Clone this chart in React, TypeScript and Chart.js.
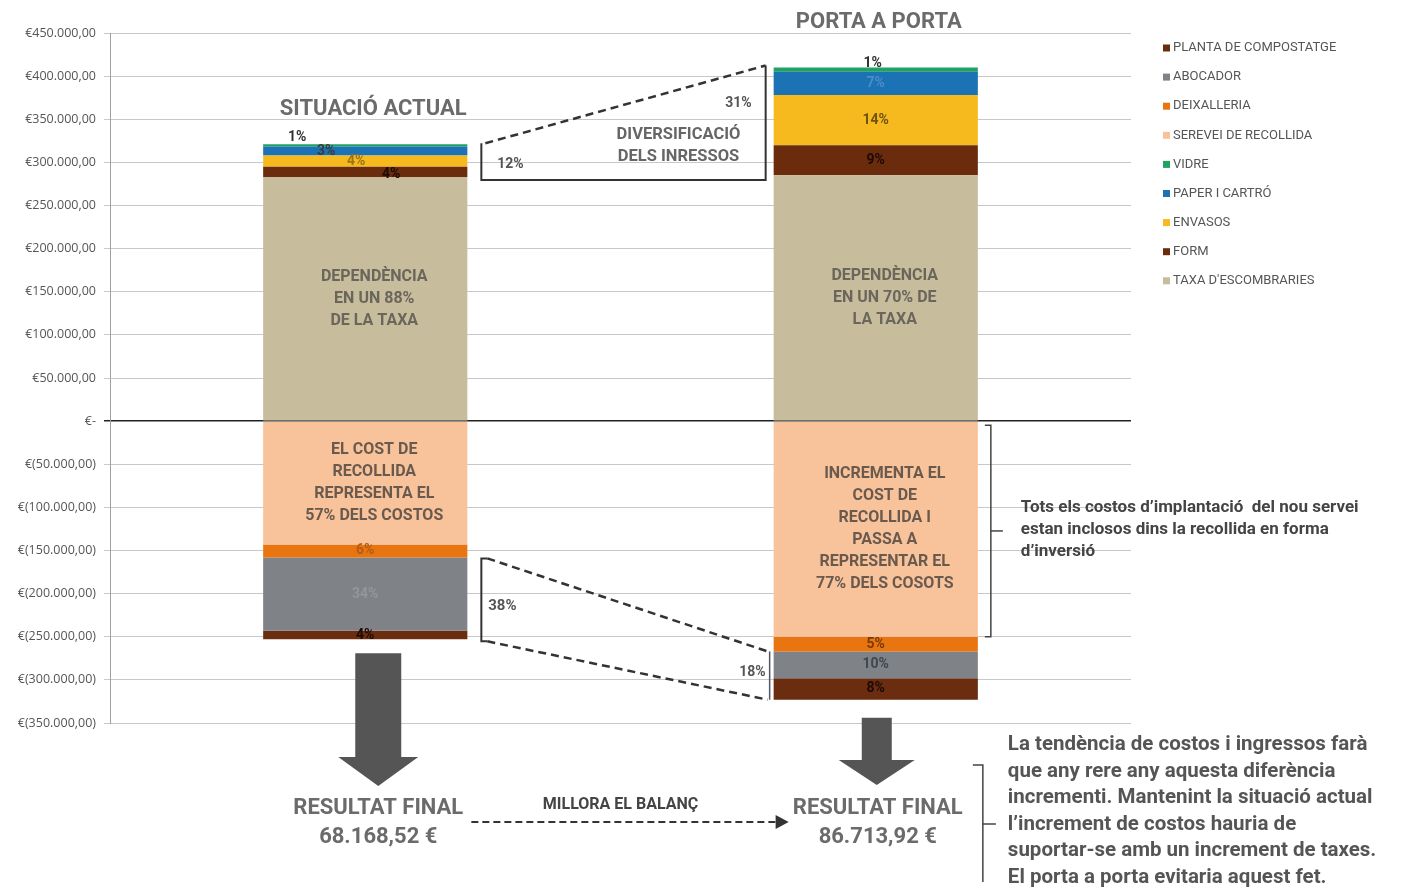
import React, { useEffect, useRef } from "react";
import { Chart, registerables } from "chart.js";
Chart.register(...registerables);

// ---------- DATA ----------
const categories = ["SITUACIÓ ACTUAL", "PORTA A PORTA"];
const taxa = [283000, 285000];
const form = [12000, 35000];
const envasos = [13000, 58000];
const paper = [10500, 27000];
const vidre = [2500, 5000];
const recollida = [-143000, -250000];
const deixalleria = [-15000, -17000];
const abocador = [-85000, -31000];
const planta = [-10000, -25000];

const pctForm = ["4%", "9%"];
const pctEnvasos = ["4%", "14%"];
const pctPaper = ["3%", "7%"];
const pctVidre = ["1%", "1%"];
const pctDeixalleria = ["6%", "5%"];
const pctAbocador = ["34%", "10%"];
const pctPlanta = ["4%", "8%"];

const yMin = -350000;
const yMax = 450000;
const yStep = 50000;

const resultValues = ["68.168,52 €", "86.713,92 €"];
const incomeShare = ["12%", "31%"];
const costShare = ["38%", "18%"];
const taxaText = [
  ["DEPENDÈNCIA", "EN UN 88%", "DE LA TAXA"],
  ["DEPENDÈNCIA", "EN UN 70% DE", "LA TAXA"],
];
const recollidaText = [
  ["EL COST DE", "RECOLLIDA", "REPRESENTA EL", "57% DELS COSTOS"],
  ["INCREMENTA EL", "COST DE", "RECOLLIDA I", "PASSA A", "REPRESENTAR EL", "77% DELS COSOTS"],
];
const noteText = [
  "Tots els costos d’implantació  del nou servei",
  "estan inclosos dins la recollida en forma",
  "d’inversió",
];
const sideText = [
  "La tendència de costos i ingressos farà",
  "que any rere any aquesta diferència",
  "incrementi. Mantenint la situació actual",
  "l’increment de costos hauria de",
  "suportar-se amb un increment de taxes.",
  "El porta a porta evitaria aquest fet.",
];

// ---------- STYLE ----------
const C = {
  taxa: "#c7bc9c",
  form: "#6b2c0e",
  envasos: "#f6ba1e",
  paper: "#1b72b4",
  vidre: "#1fa262",
  recollida: "#f8c29b",
  deixalleria: "#e8750f",
  abocador: "#7f8286",
  planta: "#6a2d10",
};
const FONT = "Roboto, 'Open Sans', sans-serif";
const GRAY = "#6b6b6b";

const fmt = (n: number) => {
  const s = Math.abs(n).toFixed(2).split(".");
  return s[0].replace(/\B(?=(\d{3})+(?!\d))/g, ".") + "," + s[1];
};
const sum = (arr: number[][], j: number) => arr.reduce((a, b) => a + b[j], 0);

function text(ctx: CanvasRenderingContext2D, s: string, x: number, y: number, font: string, color: string, align: CanvasTextAlign = "center") {
  ctx.save();
  ctx.font = font;
  ctx.fillStyle = color;
  ctx.textAlign = align;
  ctx.textBaseline = "middle";
  ctx.fillText(s, x, y);
  ctx.restore();
}

function line(ctx: CanvasRenderingContext2D, pts: number[][], color: string, w: number, dash: number[] = []) {
  ctx.save();
  ctx.strokeStyle = color;
  ctx.lineWidth = w;
  ctx.setLineDash(dash);
  ctx.beginPath();
  pts.forEach((p, i) => (i === 0 ? ctx.moveTo(p[0], p[1]) : ctx.lineTo(p[0], p[1])));
  ctx.stroke();
  ctx.restore();
}

function downArrow(ctx: CanvasRenderingContext2D, cx: number, top: number, headY: number, tip: number, shaftW: number, headW: number) {
  ctx.save();
  ctx.fillStyle = "#555555";
  ctx.beginPath();
  ctx.moveTo(cx - shaftW / 2, top);
  ctx.lineTo(cx + shaftW / 2, top);
  ctx.lineTo(cx + shaftW / 2, headY);
  ctx.lineTo(cx + headW / 2, headY);
  ctx.lineTo(cx, tip);
  ctx.lineTo(cx - headW / 2, headY);
  ctx.lineTo(cx - shaftW / 2, headY);
  ctx.closePath();
  ctx.fill();
  ctx.restore();
}

const annotPlugin = {
  id: "annot",
  afterDatasetsDraw(chart: any) {
    const ctx: CanvasRenderingContext2D = chart.ctx;
    const segLabels: { ds: number; labels: string[]; colors: string[]; dx: number[]; dy: number[] }[] = [
      { ds: 1, labels: pctForm, colors: ["#1e0a02", "#1e0a02"], dx: [26, 0], dy: [3, 0] },
      { ds: 2, labels: pctEnvasos, colors: ["#9a7418", "#6e5312"], dx: [-9, 0], dy: [0, 0] },
      { ds: 3, labels: pctPaper, colors: ["#3a3a3a", "#4d8cc4"], dx: [-39, 0], dy: [1, 0] },
      { ds: 4, labels: pctVidre, colors: ["#333333", "#333333"], dx: [-68, -3], dy: [-8, -6] },
      { ds: 6, labels: pctDeixalleria, colors: ["#b45c18", "#7a3a08"], dx: [0, 0], dy: [0, 0] },
      { ds: 7, labels: pctAbocador, colors: ["#93969b", "#3f4650"], dx: [0, 0], dy: [0, 0] },
      { ds: 8, labels: pctPlanta, colors: ["#1e0a02", "#1e0a02"], dx: [0, 0], dy: [0, 0] },
    ];
    segLabels.forEach((s) => {
      const meta = chart.getDatasetMeta(s.ds);
      meta.data.forEach((el: any, j: number) => {
        const cy = (el.y + el.base) / 2;
        text(ctx, s.labels[j], el.x + s.dx[j], cy + s.dy[j], `bold 14px ${FONT}`, s.colors[j]);
      });
    });
  },
  afterDraw(chart: any) {
    const ctx: CanvasRenderingContext2D = chart.ctx;
    const y = chart.scales.y;
    const yPx = (v: number) => y.getPixelForValue(v);
    const bars = chart.getDatasetMeta(0).data;
    const pos = [taxa, form, envasos, paper, vidre];
    const neg = [recollida, deixalleria, abocador, planta];
    const cx = bars.map((b: any) => b.x);
    const left = bars.map((b: any) => b.x - b.width / 2);
    const right = bars.map((b: any) => b.x + b.width / 2);
    const posTop = [0, 1].map((j) => yPx(sum(pos, j)));
    const negBot = [0, 1].map((j) => yPx(sum(neg, j)));

    // titles
    text(ctx, categories[0], cx[0] + 8, posTop[0] - 35, `bold 22px ${FONT}`, GRAY);
    text(ctx, categories[1], cx[1] + 3, posTop[1] - 45, `bold 22px ${FONT}`, GRAY);

    // texts in taxa / recollida segments
    [0, 1].forEach((j) => {
      const c1 = yPx(taxa[j] / 2);
      const l1 = taxaText[j];
      l1.forEach((s, i) => text(ctx, s, cx[j] + 9, c1 + (i - (l1.length - 1) / 2) * 22, `bold 16px ${FONT}`, "#6a665c"));
      const c2 = yPx(recollida[j] / 2);
      const l2 = recollidaText[j];
      l2.forEach((s, i) => text(ctx, s, cx[j] + 9, c2 + (i - (l2.length - 1) / 2) * 22, `bold 16px ${FONT}`, "#6a5a4e"));
    });

    // income trapezoid
    const lx = right[0] + 14;
    const rx = left[1] - 8;
    const baseY = yPx(taxa[0]) + 3;
    line(ctx, [[lx, posTop[0] - 1], [lx, baseY], [rx, baseY], [rx, posTop[1] - 2]], "#333", 2);
    line(ctx, [[lx + 4, posTop[0] - 1], [rx, posTop[1] - 2]], "#333", 2.5, [8, 5]);
    text(ctx, incomeShare[0], lx + 29, baseY - 16, `bold 14px ${FONT}`, "#555");
    text(ctx, incomeShare[1], rx - 14, yPx(370000) + 1, `bold 14px ${FONT}`, "#555", "right");
    text(ctx, "DIVERSIFICACIÓ", (lx + rx) / 2 + 55, baseY - 45, `bold 16.5px ${FONT}`, "#666");
    text(ctx, "DELS INRESSOS", (lx + rx) / 2 + 55, baseY - 23, `bold 16.5px ${FONT}`, "#666");

    // cost trapezoid
    const cTop = yPx(recollida[0] + deixalleria[0]) + 1;
    const cBot = negBot[0] + 2;
    const rTop = yPx(recollida[1] + deixalleria[1]);
    const rBot = negBot[1];
    const rx2 = left[1] - 6;
    line(ctx, [[lx + 6, cTop], [lx, cTop], [lx, cBot], [lx + 6, cBot]], "#333", 2);
    line(ctx, [[lx + 6, cTop], [rx2, rTop]], "#333", 2.5, [8, 5]);
    line(ctx, [[lx + 6, cBot], [rx2, rBot]], "#333", 2.5, [8, 5]);
    line(ctx, [[rx2 + 2, rTop], [rx2 + 2, rBot]], "#556", 1.5);
    text(ctx, costShare[0], lx + 21, (cTop + cBot) / 2 + 6, `bold 15px ${FONT}`, "#555");
    text(ctx, costShare[1], rx2 - 2, yPx(recollida[1] + deixalleria[1] + abocador[1] / 2) + 8, `bold 14px ${FONT}`, "#555", "right");

    // right bracket
    const bx = right[1] + 13;
    const bTop = yPx(0) + 4;
    const bBot = yPx(recollida[1]);
    line(ctx, [[bx - 6, bTop], [bx, bTop], [bx, bBot], [bx - 6, bBot]], "#444", 1.5);
    line(ctx, [[bx, (bTop + bBot) / 2], [bx + 12, (bTop + bBot) / 2]], "#444", 1.5);
    noteText.forEach((s, i) => text(ctx, s, bx + 30, yPx(-100000) + i * 22, `bold 17px ${FONT}`, "#444", "left"));

    // arrows
    downArrow(ctx, cx[0] + 13, negBot[0] + 14, 757, 786, 46, 80);
    downArrow(ctx, cx[1] + 1, negBot[1] + 18, 760, 785, 30, 76);

    // final results
    [0, 1].forEach((j) => {
      const x = cx[j] + (j === 0 ? 13 : 2);
      text(ctx, "RESULTAT FINAL", x, 808, `bold 22px ${FONT}`, GRAY);
      text(ctx, resultValues[j], x, 837, `bold 22px ${FONT}`, GRAY);
    });
    text(ctx, "MILLORA EL BALANÇ", (right[0] + left[1]) / 2, 805, `bold 16px ${FONT}`, "#444");
    line(ctx, [[right[0] + 4, 822], [left[1] + 4, 822]], "#333", 2, [7, 4]);
    ctx.save();
    ctx.fillStyle = "#333";
    ctx.beginPath();
    ctx.moveTo(left[1] + 15, 822);
    ctx.lineTo(left[1] + 2, 815);
    ctx.lineTo(left[1] + 2, 829);
    ctx.closePath();
    ctx.fill();
    ctx.restore();

    // side bracket + text
    const sx = right[1] + 5;
    line(ctx, [[sx - 10, 765], [sx, 765], [sx, 882]], "#444", 1.5);
    line(ctx, [[sx, 824], [sx + 13, 824]], "#444", 1.5);
    sideText.forEach((s, i) => text(ctx, s, sx + 25, 745 + i * 26.5, `bold 20.5px ${FONT}`, "#555", "left"));

    // legend
    const ds = chart.data.datasets.slice().reverse();
    ds.forEach((d: any, i: number) => {
      const ly = 48 + i * 29.1;
      ctx.fillStyle = d.backgroundColor;
      ctx.fillRect(1163, ly - 3.5, 7, 7);
      text(ctx, d.label, 1173, ly, `13px ${FONT}`, "#555", "left");
    });
  },
};

export default function App() {
  const ref = useRef<HTMLCanvasElement>(null);
  useEffect(() => {
    if (!ref.current) return;
    const mk = (label: string, data: number[], color: string) => ({
      label,
      data,
      backgroundColor: color,
      borderWidth: 0,
      barPercentage: 0.8,
      categoryPercentage: 0.5,
    });
    const chart = new Chart(ref.current, {
      type: "bar",
      data: {
        labels: categories,
        datasets: [
          mk("TAXA D'ESCOMBRARIES", taxa, C.taxa),
          mk("FORM", form, C.form),
          mk("ENVASOS", envasos, C.envasos),
          mk("PAPER I CARTRÓ", paper, C.paper),
          mk("VIDRE", vidre, C.vidre),
          mk("SEREVEI DE RECOLLIDA", recollida, C.recollida),
          mk("DEIXALLERIA", deixalleria, C.deixalleria),
          mk("ABOCADOR", abocador, C.abocador),
          mk("PLANTA DE COMPOSTATGE", planta, C.planta),
        ],
      },
      options: {
        responsive: false,
        animation: false,
        layout: { padding: { left: 0, top: 33, right: 281, bottom: 167 } },
        plugins: { legend: { display: false }, tooltip: { enabled: false } },
        scales: {
          x: { stacked: true, display: false },
          y: {
            stacked: true,
            min: yMin,
            max: yMax,
            afterFit: (s: any) => {
              s.width = 110;
            },
            ticks: {
              stepSize: yStep,
              color: "#555",
              padding: 8,
              font: { family: "'Open Sans', sans-serif", size: 12.5 },
              callback: (v: any) => (v === 0 ? "€-" : v > 0 ? "€" + fmt(v) : "€(" + fmt(v) + ")"),
            },
            grid: {
              color: (c: any) => (c.tick && c.tick.value === 0 ? "#222" : "#c8c8c8"),
              lineWidth: (c: any) => (c.tick && c.tick.value === 0 ? 1.5 : 1),
              tickLength: 6,
            },
            border: { display: true, color: "#a0a0a0", width: 1 },
          },
        },
      },
      plugins: [annotPlugin],
    });
    return () => chart.destroy();
  }, []);
  return (
    <div style={{ position: "fixed", left: 0, top: 0, width: 1412, height: 890, background: "#fff" }}>
      <canvas ref={ref} width={1412} height={890} style={{ display: "block" }} />
    </div>
  );
}
